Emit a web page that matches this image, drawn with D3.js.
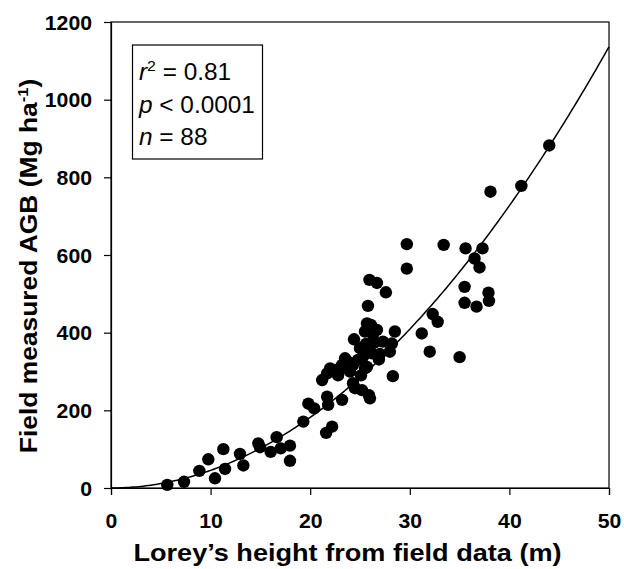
<!DOCTYPE html>
<html><head><meta charset="utf-8">
<script src="https://cdn.jsdelivr.net/npm/d3@7"></script>
<style>body{margin:0;background:#fff}</style>
</head><body>
<script>
// Data: Lorey's height (m) vs field measured AGB (Mg/ha)
const heights = [5.65,7.33,8.87,9.77,10.44,11.28,11.45,12.95,13.29,14.79,14.96,16.03,16.63,17.04,17.97,17.97,19.31,19.81,20.4,
  21.2,21.7,22.0,21.7,21.8,22.2,21.6,23.2,23.5,24.0,24.4,23.2,24.3,24.5,25.2,26.0,25.9,25.3,25.5,25.6,25.9,26.9,25.5,25.7,26.7,25.8,25.95,26.7,27.6,27.3,28.2,28.5,28.3,24.3,22.5,26.2,28.0,25.7,
  29.7,29.7,33.4,35.6,37.3,36.5,37.0,35.5,35.5,36.7,37.9,37.95,32.3,32.8,31.2,32.0,35.0,38.1,41.2,44.0,
  24.8,25.0,26.3,24.0,22.8,26.5,23.8,27.0,25.1,26.1,23.0];
const agb = [8,16,44,74,25,100,49,88,58,115,105,93,131,102,109,70,171,217,205,
  278,295,308,235,214,158,142,317,334,308,383,227,270,257,252,231,239,338,308,371,355,331,403,424,407,469,536,528,504,377,372,403,288,317,304,347,351,312,
  628,565,626,617,617,591,568,518,477,467,503,482,448,428,398,351,337,763,778,882,
  330,360,395,300,290,375,325,345,290,420,305];
const xTicks = [0,10,20,30,40,50];
const yTicks = [0,200,400,600,800,1000,1200];
const fitA = 0.4545, fitB = 2.0; // AGB = a * H^b
const statLines = [["r","2"," = 0.81"],["p",""," < 0.0001"],["n",""," = 88"]];
const xTitle = "Lorey\u2019s height from field data (m)";

const W = 624, H = 569;
const m = {left:111, right:609, top:22, bottom:488};
const FONT = "'Liberation Sans', Arial, sans-serif";
const svg = d3.select("body").append("svg").attr("width",W).attr("height",H).style("font-family",FONT);
const x = d3.scaleLinear().domain([0,50]).range([m.left,m.right]);
const y = d3.scaleLinear().domain([0,1200]).range([m.bottom,m.top]);

// frame
svg.append("rect").attr("x",m.left).attr("y",m.top).attr("width",m.right-m.left).attr("height",m.bottom-m.top)
  .attr("fill","none").attr("stroke","#000").attr("stroke-width",1.2);

const sx = 1.09;
const xAxis = svg.append("g").attr("transform",`translate(0,${m.bottom})`)
  .call(d3.axisBottom(x).tickValues(xTicks).tickSize(7).tickPadding(19).tickFormat(d3.format("d")));
const yAxis = svg.append("g").attr("transform",`translate(${m.left},0)`)
  .call(d3.axisLeft(y).tickValues(yTicks).tickSize(7).tickPadding(12).tickFormat(d3.format("d")));
[xAxis,yAxis].forEach(g=>{
  g.select(".domain").attr("stroke","#000").attr("stroke-width",1.2);
  g.selectAll(".tick line").attr("stroke","#000").attr("stroke-width",1.2);
  g.selectAll(".tick text").attr("fill","#000").style("font-size","19.5px").style("font-weight","bold")
   .style("font-family",FONT).attr("transform",`scale(${sx},1)`);
});
yAxis.selectAll(".tick text").attr("dy","0.36em").attr("x",-19/sx);

// fitted curve
const curveX = d3.range(0,50.001,0.25);
svg.append("path").datum(curveX)
  .attr("d",d3.line().x(d=>x(d)).y(d=>y(fitA*Math.pow(d,fitB))))
  .attr("fill","none").attr("stroke","#000").attr("stroke-width",1.5);

// points
svg.append("g").selectAll("circle").data(heights.map((h,i)=>[h,agb[i]])).join("circle")
  .attr("cx",d=>x(d[0])).attr("cy",d=>y(d[1])).attr("r",6.2).attr("fill","#000");

// stats box
svg.append("rect").attr("x",132.5).attr("y",45).attr("width",130).attr("height",114)
  .attr("fill","#fff").attr("stroke","#000").attr("stroke-width",1.2);
statLines.forEach((l,i)=>{
  const t = svg.append("text").attr("transform",`translate(139,${80+i*32.5}) scale(1.06,1)`)
    .style("font-size","23px").attr("fill","#000");
  t.append("tspan").style("font-style","italic").text(l[0]);
  if(l[1]) t.append("tspan").attr("dy",-9).style("font-size","15px").text(l[1]);
  t.append("tspan").attr("dy",l[1]?9:0).text(l[2]);
});

// axis titles
svg.append("text").attr("transform","translate(347.5,561) scale(1.13,1)").attr("text-anchor","middle")
  .style("font-size","24px").style("font-weight","bold").text(xTitle);
const yt = svg.append("text").attr("transform","translate(37,266) rotate(-90) scale(1.1,1)").attr("text-anchor","middle")
  .style("font-size","24px").style("font-weight","bold");
yt.append("tspan").text("Field measured AGB (Mg ha");
yt.append("tspan").attr("dy",-9).style("font-size","15px").text("-1");
yt.append("tspan").attr("dy",9).text(")");
</script>
</body></html>
